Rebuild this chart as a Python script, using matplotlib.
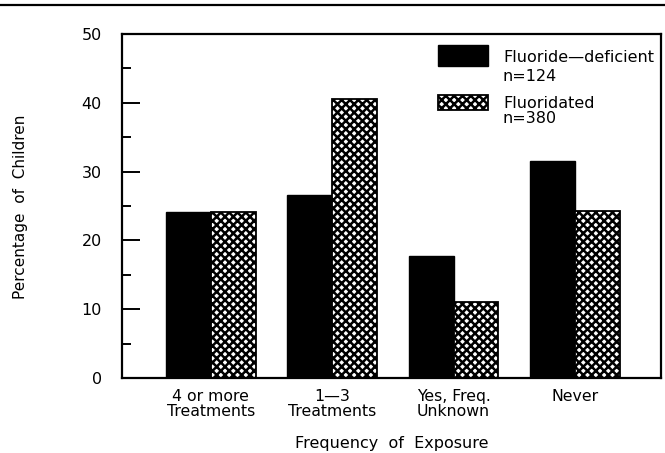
import matplotlib
matplotlib.use("Agg")
import matplotlib.pyplot as plt
from matplotlib.patches import Rectangle
from matplotlib.lines import Line2D
import numpy as np

categories = ["4 or more\nTreatments", "1\u20143\nTreatments", "Yes, Freq.\nUnknown", "Never"]
fluoride_deficient = [24.2, 26.6, 17.8, 31.6]
fluoridated = [24.2, 40.5, 11.1, 24.3]
series_labels = ["Fluoride\u2014deficient\nn=124", "Fluoridated\nn=380"]
yticks = [0, 10, 20, 30, 40, 50]

plt.rcParams['font.family'] = ['DejaVu Sans']
plt.rcParams['hatch.linewidth'] = 1.8

W, H = 665, 453
fig = plt.figure(figsize=(W / 100, H / 100), dpi=100)
ax = fig.add_axes([122 / W, 1 - 378 / H, (661 - 122) / W, (378 - 34) / H])

x = np.arange(len(categories))
bw = 0.37
ax.bar(x - bw / 2, fluoride_deficient, bw, color='black', edgecolor='black', linewidth=1)
ax.bar(x + bw / 2, fluoridated, bw, color='white', edgecolor='black', hatch='xxxx', linewidth=1.3)

ax.set_xlim(-0.733, 3.71)
ax.set_ylim(0, 50)
ax.set_yticks(yticks)
ax.set_yticks([5, 15, 25, 35, 45], minor=True)
ax.tick_params(axis='y', which='major', direction='in', length=13, width=1.4, labelsize=11.5, pad=14.5)
ax.tick_params(axis='y', which='minor', direction='in', length=6.5, width=1.4)
for s in ax.spines.values():
    s.set_linewidth(1.6)

ax.set_xticks(x)
ax.set_xticklabels(categories, fontsize=11.3, ha='center', multialignment='center', linespacing=1.0)
ax.tick_params(axis='x', length=0, pad=8)

fig.text(391.5 / W, 1 - 448 / H, "Frequency  of  Exposure", fontsize=11.5, ha='center', va='baseline')
fig.text(21 / W, 1 - 207 / H, "Percentage  of  Children", fontsize=11, ha='center', va='center',
         rotation=90)

# legend drawn in figure pixel space
fig.patches.append(Rectangle((438 / W, 1 - 66 / H), 50 / W, 21 / H, transform=fig.transFigure,
                             facecolor='black', edgecolor='black', figure=fig))
fig.patches.append(Rectangle((438 / W, 1 - 110 / H), 50 / W, 15 / H, transform=fig.transFigure,
                             facecolor='white', edgecolor='black', hatch='xxxx', linewidth=1.3, figure=fig))
fig.text(503 / W, 1 - 67 / H, series_labels[0], fontsize=11.5, ha='left', va='center', linespacing=1.3)
fig.text(503 / W, 1 - 111 / H, series_labels[1], fontsize=11.5, ha='left', va='center', linespacing=1.05)

# header rule from the scanned page
fig.add_artist(Line2D([0, 1], [1 - 5 / H, 1 - 5 / H], transform=fig.transFigure, color='black', linewidth=1.6))

fig.savefig("out.png", dpi=100)
